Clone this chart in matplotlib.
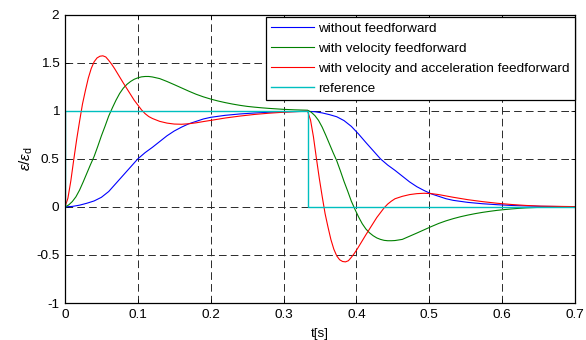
import numpy as np
import matplotlib
matplotlib.use('Agg')
import matplotlib.pyplot as plt

plt.rcParams['font.family'] = ['Liberation Sans', 'DejaVu Sans']
plt.rcParams['mathtext.fontset'] = 'custom'
plt.rcParams['mathtext.rm'] = 'Liberation Sans'
plt.rcParams['mathtext.it'] = 'Liberation Sans:italic'
plt.rcParams['lines.scale_dashes'] = False

# ===== data =====
t_blue = [0, .01, .02, .03, .04, .05, .06, .07, .08, .09, .10, .11, .12, .13, .14, .15,
          .16, .17, .18, .19, .20, .22, .24, .26, .28, .30, .333,
          .343, .353, .363, .373, .383, .393, .403, .413, .423, .433, .443, .453, .463,
          .473, .483, .493, .503, .513, .523, .533, .553, .573, .593, .613, .633, .653, .70]
v_blue = [0, .005, .018, .038, .062, .10, .16, .245, .33, .415, .50, .565, .62, .68, .74, .79,
          .83, .865, .89, .915, .932, .953, .967, .977, .985, .99, .995,
          .99, .978, .96, .938, .898, .838, .758, .67, .585, .50, .435, .38, .32,
          .26, .21, .17, .135, .11, .085, .068, .047, .033, .023, .015, .01, .006, .002]

t_green = [0, .005, .010, .015, .020, .025, .030, .035, .040, .045, .050, .055, .060, .065,
           .070, .075, .080, .085, .090, .095, .100, .105, .110, .115, .120, .130, .140, .150,
           .160, .170, .180, .190, .200, .210, .220, .230, .240, .250, .260, .270, .280, .290,
           .300, .315, .333,
           .338, .343, .348, .353, .358, .363, .368, .373, .378, .383, .388, .393, .398, .403,
           .408, .413, .418, .423, .428, .433, .438, .443, .448, .453, .463, .473, .483, .493,
           .503, .513, .523, .533, .543, .553, .563, .573, .583, .593, .603, .613, .623, .633,
           .650, .700]
v_green = [0, .02, .055, .105, .175, .26, .35, .44, .525, .63, .74, .84, .945, 1.03,
           1.11, 1.18, 1.235, 1.275, 1.305, 1.328, 1.343, 1.353, 1.357, 1.357, 1.352, 1.335, 1.305, 1.272,
           1.238, 1.204, 1.172, 1.145, 1.122, 1.102, 1.085, 1.07, 1.057, 1.046, 1.038, 1.031, 1.025, 1.02,
           1.015, 1.01, 1.006,
           .985, .95, .90, .83, .745, .655, .565, .48, .375, .265, .165, .06, -.025, -.105,
           -.175, -.23, -.27, -.30, -.323, -.338, -.348, -.352, -.352, -.35, -.338, -.305, -.272, -.238,
           -.204, -.172, -.145, -.122, -.102, -.085, -.07, -.057, -.046, -.036, -.028, -.021, -.015, -.010,
           -.005, -.002]

t_red = [0, .004, .008, .012, .016, .020, .024, .028, .032, .036, .040, .044, .048, .052, .056,
         .060, .064, .068, .072, .076, .080, .085, .090, .095, .100, .105, .110, .115, .120,
         .130, .140, .150, .160, .170, .180, .190, .200, .220, .240, .260, .280, .300, .320, .333,
         .337, .341, .345, .349, .353, .357, .361, .365, .369, .373, .377, .381, .385, .389,
         .393, .397, .401, .405, .409, .413, .418, .423, .428, .433, .438, .443, .448, .453,
         .463, .473, .483, .493, .503, .513, .533, .553, .573, .593, .613, .633, .653, .700]
v_red = [0, .09, .27, .49, .70, .89, 1.07, 1.21, 1.34, 1.44, 1.51, 1.55, 1.568, 1.572, 1.56,
         1.525, 1.485, 1.44, 1.39, 1.34, 1.29, 1.23, 1.17, 1.11, 1.06, 1.01, .97, .94, .92,
         .89, .872, .862, .86, .865, .875, .888, .90, .925, .945, .962, .975, .985, .992, .995,
         .905, .73, .51, .30, .11, -.07, -.21, -.34, -.44, -.51, -.55, -.568, -.572, -.56,
         -.525, -.485, -.44, -.39, -.34, -.29, -.23, -.17, -.11, -.06, -.01, .03, .06, .085,
         .11, .128, .138, .142, .138, .128, .10, .075, .055, .038, .025, .015, .008, .003]

t_ref = [0, 0, 1/3, 1/3, 0.7]
v_ref = [0, 1, 1, 0, 0]

labels = ['without feedforward', 'with velocity feedforward',
          'with velocity and acceleration feedforward', 'reference']
x_ticks = [0, 0.1, 0.2, 0.3, 0.4, 0.5, 0.6, 0.7]
x_ticklabels = ['0', '0.1', '0.2', '0.3', '0.4', '0.5', '0.6', '0.7']
y_ticks = [-1, -0.5, 0, 0.5, 1, 1.5, 2]
y_ticklabels = ['-1', '-0.5', '0', '0.5', '1', '1.5', '2']

# ===== plot =====
fig = plt.figure(figsize=(5.86, 3.40), dpi=100)
ax = fig.add_axes([0.1109, 0.1088, 0.8703, 0.848])

lw = 0.8
ax.plot(t_blue, v_blue, color='#0000ff', lw=lw, label=labels[0])
ax.plot(t_green, v_green, color='#008000', lw=lw, label=labels[1])
ax.plot(t_red, v_red, color='#ff0000', lw=lw, label=labels[2])
ax.plot(t_ref, v_ref, color='#00bfbf', lw=1.0, label=labels[3])

ax.set_xlim(0, 0.7)
ax.set_ylim(-1, 2)
ax.set_xticks(x_ticks)
ax.set_xticklabels(x_ticklabels)
ax.set_yticks(y_ticks)
ax.set_yticklabels(y_ticklabels)
ax.tick_params(direction='in', length=3, width=0.6, top=True, right=True,
               labelsize=9.7, colors='black', pad=4)
ax.grid(True, color='#2a2a2a', linestyle=(0, (5.5, 3.0)), linewidth=0.7)
for s in ax.spines.values():
    s.set_linewidth(0.9)

ax.set_xlabel('t[s]', fontsize=9.7, labelpad=5)
ax.set_ylabel(r'$\varepsilon/\varepsilon_\mathrm{d}$', fontsize=11, labelpad=1)

leg = ax.legend(loc='upper right', bbox_to_anchor=(1.0, 0.991), borderaxespad=0,
                fontsize=9.7, frameon=True, fancybox=False, framealpha=1,
                edgecolor='black', handlelength=3.2, handletextpad=0.3,
                labelspacing=0.55, borderpad=0.4)
leg.get_frame().set_linewidth(0.9)

fig.savefig('out.png', dpi=100)
